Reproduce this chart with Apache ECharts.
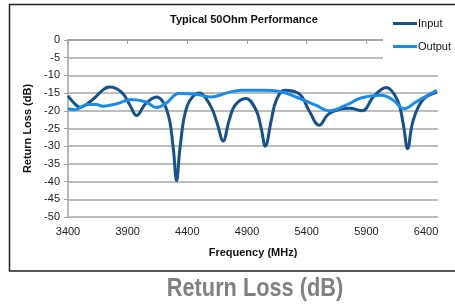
<!DOCTYPE html>
<html>
<head>
<meta charset="utf-8">
<script src="https://cdn.jsdelivr.net/npm/echarts@6/dist/echarts.min.js"></script>
<style>
  html, body { margin: 0; padding: 0; background: #fff; }
  #chart { width: 455px; height: 305px; }
</style>
</head>
<body>
<div id="chart"></div>
<script>
// 数据：频率 (MHz) 与回波损耗 (dB)
var xTicks = [3400, 3900, 4400, 4900, 5400, 5900, 6400];

var inputFreq = [3400, 3450, 3500, 3600, 3750, 3850, 3920, 3975, 4050, 4140,
                 4230, 4280, 4310, 4340, 4400, 4500, 4600, 4650, 4700, 4750,
                 4800, 4890, 4977, 5019, 5053, 5103, 5145, 5215, 5340, 5420,
                 5505, 5580, 5675, 5760, 5865, 5960, 6065, 6160, 6210, 6245,
                 6290, 6370, 6490];
var inputLoss = [-15.8, -17.8, -19.0, -17.0, -13.3, -14.8, -18.5, -21.3, -18.0, -16.1,
                 -20.0, -30.0, -39.7, -30.0, -18.5, -15.0, -19.0, -23.6, -28.5, -22.7,
                 -18.4, -16.5, -19.9, -25.0, -30.0, -22.7, -17.0, -14.2, -15.3, -20.0,
                 -24.1, -21.0, -19.6, -19.3, -20.0, -16.0, -13.4, -17.0, -24.0, -30.7,
                 -23.0, -17.0, -14.7];

var outputFreq = [3400, 3460, 3560, 3640, 3690, 3810, 3930, 4055, 4140, 4220,
                  4330, 4470, 4600, 4725, 4850, 5020, 5185, 5310, 5475, 5590,
                  5730, 5860, 6025, 6125, 6215, 6315, 6490];
var outputLoss = [-19.4, -19.7, -18.2, -18.2, -18.7, -18.0, -16.8, -17.5, -19.1, -17.9,
                  -15.1, -15.3, -16.1, -15.0, -14.2, -14.2, -14.6, -16.1, -18.4, -20.0,
                  -18.4, -16.3, -15.6, -17.0, -19.4, -17.5, -14.2];

function pairs(xs, ys) {
  return xs.map(function (x, i) { return [x, ys[i]]; });
}

var myChart = echarts.init(document.getElementById('chart'));
myChart.setOption({
  animation: false,
  textStyle: { fontFamily: 'Liberation Sans, Arial, sans-serif' },
  title: {
    text: 'Typical 50Ohm Performance',
    left: 165,
    top: 9,
    textStyle: { fontSize: 11, fontWeight: 'bold', color: '#111' }
  },
  legend: {
    orient: 'vertical',
    left: 383,
    top: 10,
    padding: [8, 10, 8, 10],
    itemGap: 12,
    itemWidth: 24,
    itemHeight: 3,
    icon: 'rect',
    z: 10,
    textStyle: { fontSize: 11, color: '#111', padding: [0, 0, 0, -4] },
    data: ['Input', 'Output']
  },
  grid: { left: 68, right: 17, top: 40, bottom: 88 },
  xAxis: {
    type: 'value',
    min: 3400,
    max: 6500,
    name: 'Frequency (MHz)',
    nameLocation: 'middle',
    nameGap: 30,
    nameTextStyle: { fontSize: 11, fontWeight: 'bold', color: '#111' },
    axisLine: { lineStyle: { color: '#a0a0a0', width: 1.5 } },
    axisTick: { show: true, customValues: xTicks, length: 4, lineStyle: { color: '#a0a0a0' } },
    axisLabel: {
      customValues: xTicks, fontSize: 11, color: '#222', margin: 9,
      formatter: function (v) { return String(v); }
    },
    splitLine: { show: false }
  },
  yAxis: {
    type: 'value',
    min: -50,
    max: 0,
    interval: 5,
    name: 'Return Loss (dB)',
    nameLocation: 'middle',
    nameGap: 35,
    nameTextStyle: { fontSize: 11, fontWeight: 'bold', color: '#111' },
    axisLine: { show: true, lineStyle: { color: '#a0a0a0', width: 1.5 } },
    axisTick: { show: true, length: 4, lineStyle: { color: '#a0a0a0' } },
    axisLabel: { fontSize: 11, color: '#222', margin: 8 },
    splitLine: { lineStyle: { color: '#a6a6a6', width: 1.5 } }
  },
  series: [
    {
      name: 'Input',
      type: 'line',
      smooth: 0.4,
      symbol: 'none',
      data: pairs(inputFreq, inputLoss),
      lineStyle: { color: '#15508f', width: 3 },
      itemStyle: { color: '#15508f' },
      z: 3
    },
    {
      name: 'Output',
      type: 'line',
      smooth: 0.4,
      symbol: 'none',
      data: pairs(outputFreq, outputLoss),
      lineStyle: { color: '#1a8ce8', width: 3 },
      itemStyle: { color: '#1a8ce8' },
      z: 4
    }
  ],
  graphic: [
    {
      // 图例背后的白底，遮住上方网格线
      type: 'rect',
      z: 6,
      shape: { x: 383, y: 8, width: 72, height: 54 },
      style: { fill: '#fff' },
      silent: true
    },
    {
      type: 'rect',
      z: 7,
      shape: { x: 9.5, y: 4.5, width: 460, height: 266.5 },
      style: { fill: 'none', stroke: '#222', lineWidth: 1.5 },
      silent: true
    },
    {
      type: 'text',
      x: 255,
      y: 289,
      scaleX: 0.87,
      style: {
        text: 'Return Loss (dB)',
        textAlign: 'center',
        textVerticalAlign: 'middle',
        fill: '#808080',
        font: 'bold 25px "Liberation Sans", Arial, sans-serif'
      }
    }
  ]
});
</script>
</body>
</html>
